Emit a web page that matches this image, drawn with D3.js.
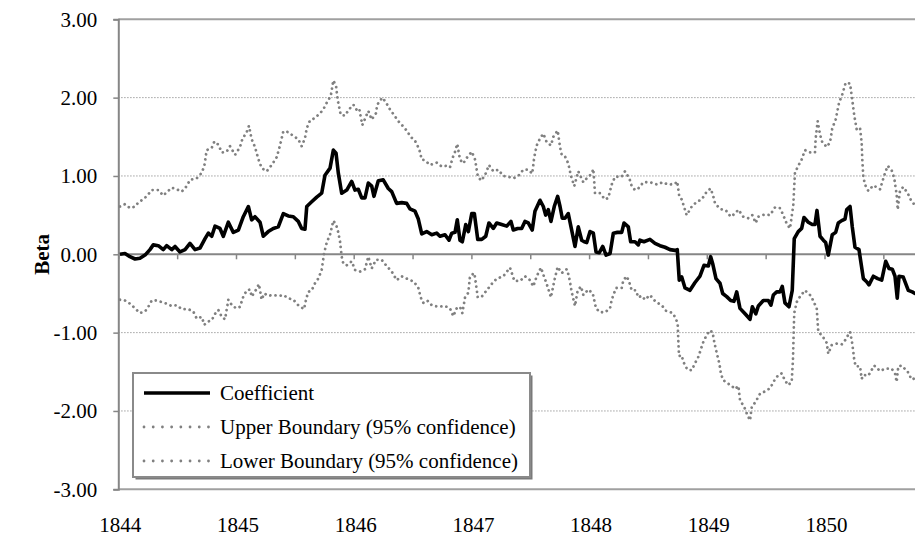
<!DOCTYPE html>
<html><head><meta charset="utf-8">
<script src="https://cdn.jsdelivr.net/npm/d3@7"></script>
<style>html,body{margin:0;padding:0;background:#fff;overflow:hidden}</style>
</head><body>
<svg id="chart" width="915" height="536"></svg>
<script>
// ---------- data (time = decimal years after Jan 1844) ----------
const baseYear = 1844;
const yearLabels = ["1844","1845","1846","1847","1848","1849","1850"];
const yTickValues = [-3, -2, -1, 0, 1, 2, 3];
const seriesNames = ["Coefficient", "Upper Boundary (95% confidence)", "Lower Boundary (95% confidence)"];

const coefT = [
0.014,0.057,0.099,0.142,0.184,0.227,0.269,0.297,0.340,0.382,
0.411,0.454,0.482,0.524,0.567,0.609,0.652,0.694,0.737,0.765,
0.794,0.822,0.864,0.892,0.935,0.977,1.020,1.062,1.105,1.133,
1.161,1.204,1.232,1.274,1.317,1.359,1.402,1.444,1.487,1.529,
1.558,1.586,1.601,1.643,1.686,1.728,1.756,1.799,1.827,1.850,
1.869,1.898,1.941,1.983,2.011,2.039,2.068,2.096,2.124,2.153,
2.172,2.209,2.251,2.294,2.323,2.365,2.408,2.450,2.478,2.521,
2.549,2.578,2.620,2.663,2.705,2.733,2.776,2.810,2.833,2.861,
2.880,2.903,2.923,2.952,2.974,3.003,3.025,3.054,3.088,3.122,
3.149,3.186,3.215,3.257,3.300,3.336,3.356,3.393,3.427,3.455,
3.483,3.517,3.540,3.583,3.611,3.631,3.653,3.676,3.704,3.733,
3.753,3.772,3.795,3.823,3.852,3.880,3.908,3.937,3.959,3.980,
4.008,4.036,4.059,4.087,4.116,4.144,4.178,4.206,4.240,4.277,
4.297,4.333,4.353,4.390,4.418,4.432,4.466,4.517,4.560,4.602,
4.645,4.687,4.730,4.749,4.766,4.787,4.815,4.857,4.900,4.942,
4.976,5.013,5.033,5.050,5.078,5.112,5.135,5.169,5.203,5.231,
5.254,5.282,5.325,5.367,5.387,5.416,5.438,5.480,5.523,5.545,
5.565,5.594,5.622,5.641,5.664,5.698,5.726,5.743,5.777,5.806,
5.826,5.862,5.896,5.919,5.936,5.962,5.990,6.010,6.032,6.066,
6.095,6.117,6.146,6.174,6.189,6.217,6.236,6.259,6.293,6.330,
6.358,6.378,6.415,6.452,6.486,6.520,6.548,6.576,6.599,6.618,
6.633,6.669,6.712,6.746,6.769,6.811];
const coefV = [
0.00,0.01,-0.03,-0.06,-0.05,-0.01,0.06,0.12,0.11,0.06,
0.11,0.06,0.10,0.03,0.06,0.14,0.06,0.08,0.20,0.27,
0.23,0.36,0.33,0.23,0.41,0.28,0.31,0.48,0.61,0.44,
0.48,0.41,0.23,0.29,0.33,0.35,0.52,0.49,0.48,0.42,
0.33,0.32,0.61,0.67,0.73,0.78,1.01,1.10,1.33,1.29,
1.04,0.78,0.82,0.93,0.82,0.83,0.72,0.72,0.91,0.87,
0.74,0.94,0.95,0.84,0.80,0.65,0.66,0.65,0.58,0.55,
0.45,0.26,0.29,0.25,0.27,0.23,0.25,0.18,0.27,0.28,
0.44,0.18,0.16,0.38,0.29,0.52,0.52,0.19,0.19,0.23,
0.40,0.33,0.40,0.38,0.36,0.42,0.31,0.33,0.33,0.42,
0.40,0.31,0.55,0.69,0.61,0.50,0.57,0.42,0.61,0.74,
0.61,0.46,0.46,0.52,0.31,0.10,0.35,0.18,0.16,0.15,
0.29,0.27,0.03,0.02,0.10,-0.01,0.01,0.27,0.28,0.28,
0.40,0.35,0.16,0.16,0.12,0.18,0.16,0.19,0.14,0.11,
0.09,0.06,0.05,0.06,-0.33,-0.29,-0.43,-0.46,-0.36,-0.28,
-0.14,-0.15,-0.03,-0.12,-0.31,-0.37,-0.50,-0.54,-0.59,-0.60,
-0.48,-0.69,-0.76,-0.83,-0.67,-0.76,-0.66,-0.59,-0.59,-0.65,
-0.52,-0.48,-0.48,-0.41,-0.62,-0.67,-0.46,0.20,0.29,0.33,
0.47,0.41,0.38,0.38,0.56,0.23,0.18,0.15,-0.01,0.25,
0.28,0.40,0.43,0.45,0.57,0.61,0.35,0.09,0.06,-0.31,
-0.35,-0.39,-0.28,-0.31,-0.33,-0.09,-0.18,-0.19,-0.28,-0.56,
-0.28,-0.29,-0.46,-0.48,-0.50,-0.50];

const upperT = [
0.014,0.057,0.099,0.142,0.170,0.199,0.241,0.284,0.340,0.382,
0.411,0.454,0.496,0.539,0.581,0.609,0.666,0.709,0.731,0.751,
0.794,0.816,0.850,0.879,0.921,0.949,0.992,1.034,1.054,1.091,
1.110,1.133,1.161,1.189,1.218,1.261,1.303,1.346,1.374,1.402,
1.444,1.487,1.529,1.558,1.586,1.601,1.629,1.671,1.714,1.742,
1.776,1.805,1.827,1.850,1.864,1.890,1.926,1.960,1.997,2.031,
2.048,2.073,2.096,2.124,2.153,2.189,2.200,2.243,2.274,2.308,
2.342,2.379,2.416,2.450,2.484,2.521,2.557,2.578,2.606,2.648,
2.705,2.748,2.790,2.818,2.838,2.861,2.880,2.903,2.931,2.960,
3.003,3.031,3.054,3.082,3.116,3.149,3.186,3.229,3.271,3.314,
3.356,3.398,3.441,3.483,3.517,3.534,3.555,3.583,3.611,3.640,
3.676,3.696,3.733,3.753,3.767,3.795,3.823,3.846,3.874,3.908,
3.951,3.980,4.022,4.036,4.050,4.093,4.135,4.163,4.192,4.220,
4.277,4.305,4.342,4.362,4.390,4.418,4.461,4.517,4.579,4.625,
4.673,4.730,4.749,4.766,4.787,4.806,4.829,4.872,4.914,4.957,
4.999,5.033,5.055,5.070,5.112,5.163,5.203,5.240,5.268,5.310,
5.353,5.387,5.416,5.438,5.495,5.537,5.580,5.622,5.650,5.679,
5.707,5.735,5.743,5.749,5.777,5.806,5.834,5.877,5.919,5.925,
5.942,5.962,5.981,6.019,6.047,6.066,6.095,6.123,6.151,6.180,
6.217,6.236,6.253,6.274,6.302,6.316,6.321,6.330,6.344,6.372,
6.415,6.472,6.508,6.537,6.571,6.593,6.613,6.622,6.641,6.669,
6.707,6.741,6.769,6.811];
const upperV = [
0.61,0.64,0.59,0.61,0.66,0.69,0.74,0.82,0.82,0.75,
0.79,0.85,0.83,0.80,0.87,0.95,0.97,1.04,1.13,1.33,
1.36,1.44,1.40,1.30,1.31,1.38,1.27,1.37,1.47,1.56,
1.64,1.47,1.37,1.22,1.10,1.06,1.14,1.24,1.39,1.57,
1.56,1.51,1.47,1.38,1.48,1.61,1.71,1.74,1.80,1.85,
1.95,2.02,2.22,2.15,1.97,1.78,1.77,1.85,1.91,1.83,
1.85,1.65,1.73,1.83,1.72,1.80,1.91,2.00,1.94,1.85,
1.78,1.70,1.64,1.58,1.50,1.45,1.34,1.21,1.20,1.14,
1.17,1.12,1.13,1.11,1.22,1.31,1.41,1.21,1.16,1.23,
1.31,1.21,1.00,0.94,1.01,1.14,1.06,1.08,1.00,0.99,
0.97,1.00,1.08,1.08,1.03,1.24,1.39,1.48,1.54,1.43,
1.39,1.50,1.58,1.37,1.27,1.25,1.16,1.00,0.87,1.06,
0.92,0.97,1.03,1.09,0.78,0.78,0.70,0.72,0.89,0.99,
0.99,1.06,0.97,0.87,0.82,0.84,0.92,0.92,0.89,0.92,
0.89,0.90,0.93,0.74,0.70,0.61,0.50,0.61,0.67,0.70,
0.80,0.84,0.74,0.65,0.58,0.56,0.48,0.52,0.57,0.48,
0.46,0.50,0.40,0.48,0.51,0.50,0.60,0.59,0.50,0.39,
0.33,0.63,0.87,1.04,1.13,1.21,1.33,1.30,1.30,1.48,
1.70,1.53,1.43,1.37,1.43,1.61,1.72,1.93,2.04,2.19,
2.18,1.97,1.77,1.59,1.61,1.42,1.21,0.99,0.89,0.81,
0.88,0.83,1.01,1.13,1.07,0.97,0.76,0.57,0.81,0.86,
0.78,0.67,0.63,0.62];

const lowerT = [
0.014,0.057,0.099,0.142,0.184,0.227,0.255,0.284,0.326,0.369,
0.411,0.454,0.496,0.539,0.595,0.637,0.666,0.709,0.731,0.760,
0.794,0.822,0.850,0.879,0.907,0.935,0.969,1.006,1.034,1.062,
1.091,1.119,1.133,1.167,1.195,1.218,1.240,1.274,1.317,1.374,
1.402,1.444,1.487,1.529,1.578,1.595,1.614,1.643,1.671,1.699,
1.728,1.748,1.771,1.799,1.827,1.850,1.869,1.884,1.898,1.912,
1.941,1.983,2.011,2.054,2.096,2.124,2.153,2.189,2.238,2.280,
2.323,2.365,2.408,2.450,2.512,2.549,2.569,2.591,2.625,2.663,
2.719,2.776,2.818,2.846,2.875,2.903,2.923,2.946,2.974,2.988,
3.025,3.036,3.054,3.088,3.130,3.172,3.215,3.271,3.328,3.365,
3.413,3.455,3.498,3.526,3.555,3.591,3.611,3.640,3.676,3.704,
3.733,3.767,3.810,3.829,3.852,3.880,3.903,3.931,3.951,3.993,
4.031,4.059,4.093,4.135,4.178,4.192,4.229,4.277,4.291,4.320,
4.342,4.362,4.398,4.418,4.447,4.475,4.517,4.568,4.617,4.653,
4.710,4.738,4.753,4.758,4.764,4.787,4.800,4.834,4.872,4.900,
4.928,4.948,4.970,4.999,5.027,5.050,5.061,5.078,5.106,5.118,
5.135,5.169,5.212,5.240,5.268,5.282,5.318,5.339,5.367,5.382,
5.416,5.452,5.495,5.537,5.574,5.608,5.636,5.664,5.692,5.721,
5.732,5.738,5.743,5.764,5.792,5.834,5.885,5.934,5.947,5.981,
6.019,6.032,6.061,6.104,6.146,6.174,6.217,6.236,6.253,6.265,
6.302,6.316,6.330,6.372,6.423,6.472,6.514,6.571,6.599,6.613,
6.627,6.656,6.707,6.741,6.769,6.811];
const lowerV = [
-0.58,-0.59,-0.63,-0.69,-0.75,-0.73,-0.67,-0.59,-0.59,-0.61,
-0.63,-0.66,-0.65,-0.70,-0.70,-0.73,-0.82,-0.80,-0.90,-0.86,
-0.84,-0.76,-0.71,-0.80,-0.83,-0.58,-0.66,-0.69,-0.67,-0.54,
-0.46,-0.45,-0.54,-0.46,-0.38,-0.58,-0.50,-0.53,-0.52,-0.53,
-0.52,-0.56,-0.58,-0.65,-0.70,-0.58,-0.48,-0.46,-0.37,-0.31,
-0.20,0.01,0.15,0.25,0.43,0.38,0.28,0.16,-0.03,-0.12,
-0.14,-0.09,-0.20,-0.22,-0.19,-0.03,-0.18,-0.07,-0.07,-0.15,
-0.22,-0.33,-0.28,-0.31,-0.35,-0.43,-0.55,-0.62,-0.59,-0.65,
-0.67,-0.66,-0.69,-0.79,-0.69,-0.67,-0.75,-0.55,-0.49,-0.28,
-0.24,-0.35,-0.55,-0.54,-0.46,-0.38,-0.31,-0.28,-0.17,-0.34,
-0.34,-0.28,-0.33,-0.41,-0.28,-0.17,-0.26,-0.38,-0.55,-0.34,
-0.16,-0.24,-0.19,-0.28,-0.48,-0.66,-0.46,-0.41,-0.52,-0.45,
-0.50,-0.69,-0.74,-0.74,-0.69,-0.58,-0.43,-0.43,-0.33,-0.28,
-0.36,-0.46,-0.46,-0.55,-0.53,-0.58,-0.52,-0.61,-0.65,-0.72,
-0.75,-0.82,-0.90,-1.10,-1.30,-1.29,-1.37,-1.47,-1.48,-1.39,
-1.31,-1.22,-1.12,-1.03,-0.97,-1.00,-1.10,-1.22,-1.39,-1.50,
-1.60,-1.64,-1.68,-1.72,-1.68,-1.86,-1.95,-2.03,-2.12,-1.95,
-1.88,-1.78,-1.75,-1.71,-1.61,-1.54,-1.52,-1.61,-1.67,-1.63,
-1.35,-1.01,-0.75,-0.61,-0.54,-0.46,-0.53,-0.69,-0.99,-1.04,
-1.13,-1.27,-1.16,-1.14,-1.15,-1.10,-0.99,-1.14,-1.35,-1.43,
-1.43,-1.59,-1.54,-1.55,-1.42,-1.49,-1.46,-1.46,-1.52,-1.63,
-1.43,-1.42,-1.50,-1.60,-1.58,-1.58];

// ---------- drawing ----------
const W = 915, H = 536;
const svg = d3.select("#chart");
const FONT = "'Liberation Serif','Times New Roman',serif";
const AXIS = "#868686";

const x = d3.scaleLinear().domain([1844, 1851]).range([118.3, 118.3 + 7 * 117.7]);
const y = d3.scaleLinear().domain([-3, 3]).range([489.3, 19.3]);
const plotL = x.range()[0], plotR = W;

svg.append("rect").attr("width", W).attr("height", H).attr("fill", "#fff");

// gridlines
svg.append("g").selectAll("line")
  .data(yTickValues.filter(v => v !== 0 && Math.abs(v) !== 3))
  .join("line")
  .attr("x1", plotL).attr("x2", plotR)
  .attr("y1", d => y(d)).attr("y2", d => y(d))
  .attr("stroke", "#8a8a8a").attr("stroke-width", 1)
  .attr("stroke-dasharray", "1.2 1.8");

// plot border top/bottom
[3, -3].forEach(v => {
  svg.append("line").attr("x1", plotL).attr("x2", plotR)
    .attr("y1", y(v)).attr("y2", y(v))
    .attr("stroke", "#a0a0a0").attr("stroke-width", 2);
});

// y axis
const yAxis = d3.axisLeft(y).tickValues(yTickValues).tickSize(5).tickPadding(16)
  .tickFormat(d => d.toFixed(2));
const gy = svg.append("g").attr("transform", `translate(${plotL},0)`).call(yAxis);
gy.select(".domain").attr("stroke", AXIS).attr("stroke-width", 2);
gy.selectAll(".tick line").attr("stroke", AXIS).attr("stroke-width", 1.5);
gy.selectAll(".tick text").attr("font-family", FONT).attr("font-size", 21).attr("fill", "#000");

// zero line + half-year ticks
const halfYears = d3.range(0, 14).map(i => baseYear + i / 2);
const xAxis = d3.axisBottom(x).tickValues(halfYears).tickSize(5).tickFormat("");
const gx = svg.append("g").attr("transform", `translate(0,${y(0)})`).call(xAxis);
gx.select(".domain").remove();
gx.selectAll(".tick line").attr("stroke", AXIS).attr("stroke-width", 1.5);
svg.append("line").attr("x1", plotL).attr("x2", plotR)
  .attr("y1", y(0)).attr("y2", y(0)).attr("stroke", AXIS).attr("stroke-width", 2);

// year labels
svg.append("g").selectAll("text").data(yearLabels).join("text")
  .attr("x", d => x(+d) + 2).attr("y", 532)
  .attr("text-anchor", "middle")
  .attr("font-family", FONT).attr("font-size", 21).attr("fill", "#000")
  .text(d => d);

// axis title
svg.append("text")
  .attr("transform", `translate(42,${y(0)}) rotate(-90)`)
  .attr("text-anchor", "middle").attr("dominant-baseline", "central")
  .attr("font-family", FONT).attr("font-size", 21).attr("font-weight", "bold")
  .text("Beta");

// series
const line = d3.line().x(d => x(baseYear + d[0])).y(d => y(d[1]));
svg.append("clipPath").attr("id", "clip").append("rect")
  .attr("x", plotL).attr("y", 0).attr("width", W - plotL).attr("height", H);
const series = [
  { name: seriesNames[2], pts: d3.zip(lowerT, lowerV), dotted: true },
  { name: seriesNames[1], pts: d3.zip(upperT, upperV), dotted: true },
  { name: seriesNames[0], pts: d3.zip(coefT, coefV), dotted: false }
];
const gs = svg.append("g").attr("clip-path", "url(#clip)");
series.forEach(s => {
  const p = gs.append("path").attr("d", line(s.pts)).attr("fill", "none")
    .attr("stroke-linejoin", "round");
  if (s.dotted) {
    p.attr("stroke", "#808080").attr("stroke-width", 2.8)
      .attr("stroke-linecap", "round").attr("stroke-dasharray", "0.01 5.2");
  } else {
    p.attr("stroke", "#000").attr("stroke-width", 3.6);
  }
});

// legend
const lg = svg.append("g").attr("transform", "translate(133,373)");
lg.append("rect").attr("x", 2.5).attr("y", 2.5).attr("width", 397).attr("height", 104).attr("fill", "#7a7a7a");
lg.append("rect").attr("width", 397).attr("height", 104).attr("fill", "#fff")
  .attr("stroke", "#8a8a8a").attr("stroke-width", 2);
const legendRows = [
  { name: seriesNames[0], dotted: false },
  { name: seriesNames[1], dotted: true },
  { name: seriesNames[2], dotted: true }
];
legendRows.forEach((r, i) => {
  const cy = 20 + i * 34;
  const l = lg.append("line").attr("x1", 11).attr("x2", 77).attr("y1", cy).attr("y2", cy);
  if (r.dotted) {
    l.attr("stroke", "#808080").attr("stroke-width", 2.8).attr("stroke-linecap", "round")
      .attr("stroke-dasharray", "0.01 9.2");
  } else {
    l.attr("stroke", "#000").attr("stroke-width", 3.6);
  }
  lg.append("text").attr("x", 87).attr("y", cy).attr("dominant-baseline", "central")
    .attr("font-family", FONT).attr("font-size", 21).attr("fill", "#000").text(r.name);
});
</script>
</body></html>
